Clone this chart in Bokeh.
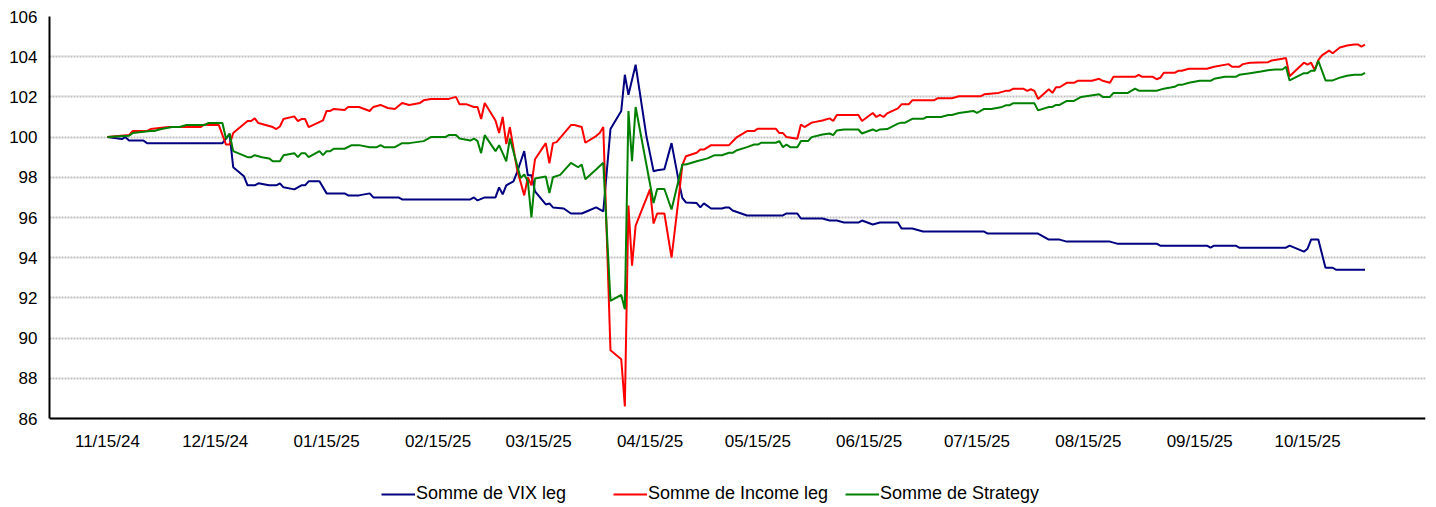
from datetime import datetime
import pandas as pd
from bokeh.plotting import figure
from bokeh.models import Range1d, FixedTicker, DatetimeTickFormatter
from bokeh.embed import file_html
from bokeh.resources import INLINE

# ---------------- data ----------------
vix_dates = ["2024-11-15","2024-11-18","2024-11-19","2024-11-20","2024-11-21","2024-11-25","2024-11-26",
    "2024-12-17","2024-12-19","2024-12-20","2024-12-23","2024-12-24","2024-12-26","2024-12-27","2024-12-30",
    "2025-01-01","2025-01-02","2025-01-03","2025-01-06","2025-01-08","2025-01-09","2025-01-10","2025-01-13",
    "2025-01-15","2025-01-20","2025-01-21","2025-01-24","2025-01-27","2025-01-28","2025-02-04","2025-02-05",
    "2025-02-24","2025-02-25","2025-02-26","2025-02-28","2025-03-03","2025-03-04","2025-03-05","2025-03-06",
    "2025-03-08","2025-03-09","2025-03-11","2025-03-12","2025-03-13","2025-03-14","2025-03-17","2025-03-18",
    "2025-03-19","2025-03-22","2025-03-24","2025-03-27","2025-03-29","2025-03-31","2025-04-02","2025-04-04",
    "2025-04-07","2025-04-08","2025-04-09","2025-04-11","2025-04-14","2025-04-16","2025-04-17","2025-04-19",
    "2025-04-21","2025-04-23","2025-04-24","2025-04-25","2025-04-28","2025-04-29","2025-04-30","2025-05-02",
    "2025-05-05","2025-05-06","2025-05-07","2025-05-08","2025-05-12","2025-05-22","2025-05-23","2025-05-26",
    "2025-05-27","2025-06-02","2025-06-04","2025-06-06","2025-06-08","2025-06-12","2025-06-13","2025-06-16",
    "2025-06-18","2025-06-23","2025-06-24","2025-06-27","2025-06-30","2025-07-17","2025-07-18","2025-08-01",
    "2025-08-04","2025-08-07","2025-08-09","2025-08-21","2025-08-23","2025-09-03","2025-09-04","2025-09-17",
    "2025-09-18","2025-09-19","2025-09-25","2025-09-26","2025-10-09","2025-10-10","2025-10-14","2025-10-15",
    "2025-10-16","2025-10-18","2025-10-20","2025-10-22","2025-10-23","2025-10-31"]
vix = [100.0,99.93,99.9,100.0,99.83,99.83,99.7,
    99.7,100.15,98.5,98.05,97.6,97.6,97.7,97.6,
    97.6,97.7,97.5,97.4,97.6,97.6,97.8,97.8,
    97.2,97.2,97.1,97.1,97.2,97.0,97.0,96.9,
    96.9,97.0,96.85,97.0,97.0,97.5,97.15,97.6,
    97.8,98.25,99.3,98.1,98.1,97.3,96.65,96.7,
    96.5,96.45,96.2,96.2,96.35,96.5,96.3,100.4,
    101.3,103.1,102.1,103.6,100.05,98.3,98.35,98.4,
    99.7,97.8,96.97,96.75,96.72,96.5,96.7,96.45,
    96.45,96.5,96.5,96.35,96.1,96.1,96.2,96.2,
    95.95,95.95,95.85,95.85,95.75,95.75,95.85,95.65,
    95.75,95.75,95.45,95.45,95.3,95.3,95.2,95.2,
    94.9,94.9,94.8,94.8,94.7,94.7,94.6,94.6,
    94.5,94.6,94.6,94.5,94.5,94.6,94.3,94.45,
    94.9,94.9,93.5,93.5,93.4,93.4]

income_dates = ["2024-11-15","2024-11-21","2024-11-22","2024-11-26","2024-11-27","2024-12-02","2024-12-11",
    "2024-12-12","2024-12-13","2024-12-16","2024-12-18","2024-12-19","2024-12-20","2024-12-24","2024-12-25",
    "2024-12-26","2024-12-27","2024-12-29","2024-12-31","2025-01-01","2025-01-02","2025-01-03","2025-01-06",
    "2025-01-07","2025-01-08","2025-01-09","2025-01-10","2025-01-14","2025-01-15","2025-01-16","2025-01-17",
    "2025-01-20","2025-01-21","2025-01-24","2025-01-27","2025-01-28","2025-01-30","2025-02-01","2025-02-03",
    "2025-02-05","2025-02-07","2025-02-10","2025-02-11","2025-02-13","2025-02-18","2025-02-20","2025-02-21",
    "2025-02-23","2025-02-25","2025-02-26","2025-02-27","2025-02-28","2025-03-03","2025-03-04","2025-03-05",
    "2025-03-06","2025-03-07","2025-03-09","2025-03-11","2025-03-12","2025-03-13","2025-03-14","2025-03-17",
    "2025-03-18","2025-03-19","2025-03-20","2025-03-24","2025-03-25","2025-03-27","2025-03-28","2025-03-31",
    "2025-04-01","2025-04-02","2025-04-04","2025-04-07","2025-04-08","2025-04-09","2025-04-10","2025-04-11",
    "2025-04-15","2025-04-16","2025-04-17","2025-04-19","2025-04-21","2025-04-23","2025-04-24","2025-04-25",
    "2025-04-28","2025-04-29","2025-04-30","2025-05-02","2025-05-07","2025-05-09","2025-05-12","2025-05-14",
    "2025-05-15","2025-05-20","2025-05-21","2025-05-22","2025-05-23","2025-05-26","2025-05-27","2025-05-28",
    "2025-05-30","2025-06-02","2025-06-04","2025-06-05","2025-06-06","2025-06-12","2025-06-13","2025-06-16",
    "2025-06-17","2025-06-18","2025-06-19","2025-06-20","2025-06-23","2025-06-24","2025-06-26","2025-06-27",
    "2025-07-03","2025-07-04","2025-07-08","2025-07-10","2025-07-16","2025-07-17","2025-07-21","2025-07-23",
    "2025-07-24","2025-07-25","2025-07-28","2025-07-29","2025-07-30","2025-07-31","2025-08-01","2025-08-04",
    "2025-08-05","2025-08-06","2025-08-07","2025-08-09","2025-08-11","2025-08-12","2025-08-16","2025-08-18",
    "2025-08-19","2025-08-21","2025-08-22","2025-08-28","2025-08-29","2025-08-30","2025-09-02","2025-09-03",
    "2025-09-04","2025-09-05","2025-09-08","2025-09-09","2025-09-10","2025-09-12","2025-09-17","2025-09-19",
    "2025-09-23","2025-09-24","2025-09-26","2025-09-27","2025-09-29","2025-10-04","2025-10-05","2025-10-08",
    "2025-10-09","2025-10-10","2025-10-14","2025-10-15","2025-10-16","2025-10-17","2025-10-18","2025-10-19",
    "2025-10-21","2025-10-22","2025-10-24","2025-10-26","2025-10-28","2025-10-29","2025-10-30","2025-10-31"]
income = [100.0,100.1,100.3,100.3,100.4,100.5,100.5,
    100.63,100.6,100.6,99.63,99.63,100.2,100.8,100.8,
    100.93,100.7,100.6,100.5,100.4,100.53,100.9,101.03,
    100.8,100.9,100.9,100.5,100.83,101.3,101.3,101.4,
    101.35,101.5,101.5,101.3,101.5,101.6,101.45,101.4,
    101.7,101.6,101.7,101.83,101.9,101.9,102.0,101.63,
    101.63,101.5,101.5,100.9,101.7,100.83,100.2,101.0,
    99.65,100.5,98.4,97.1,98.0,97.6,98.9,99.7,
    98.7,99.7,99.75,100.6,100.6,100.5,99.72,100.05,
    100.2,100.5,89.4,88.95,86.6,96.6,93.6,95.6,
    97.4,95.7,96.2,96.2,94.0,97.0,98.6,99.05,
    99.22,99.38,99.38,99.6,99.6,99.97,100.3,100.3,
    100.42,100.42,100.2,100.2,100.0,99.92,100.63,100.5,
    100.72,100.83,100.93,100.8,101.1,101.1,100.8,101.2,
    101.0,101.1,101.0,101.18,101.43,101.63,101.63,101.83,
    101.83,101.93,101.93,102.03,102.03,102.13,102.2,102.3,
    102.3,102.4,102.4,102.3,102.38,102.3,101.9,102.38,
    102.2,102.48,102.48,102.7,102.7,102.8,102.8,102.9,
    102.8,102.7,103.0,103.0,103.1,103.0,103.0,102.88,
    102.95,103.2,103.2,103.3,103.3,103.4,103.4,103.5,
    103.63,103.5,103.5,103.63,103.7,103.73,103.81,103.9,
    103.93,103.03,103.7,103.6,103.7,103.33,103.83,104.07,
    104.3,104.17,104.46,104.56,104.61,104.61,104.5,104.6]

strategy_dates = ["2024-11-15","2024-11-21","2024-11-22","2024-11-27","2024-11-28","2024-11-30","2024-12-03",
    "2024-12-05","2024-12-07","2024-12-12","2024-12-13","2024-12-17","2024-12-18","2024-12-19","2024-12-20",
    "2024-12-24","2024-12-25","2024-12-26","2024-12-28","2024-12-30","2024-12-31","2025-01-02","2025-01-03",
    "2025-01-06","2025-01-07","2025-01-08","2025-01-09","2025-01-10","2025-01-13","2025-01-14","2025-01-15",
    "2025-01-16","2025-01-17","2025-01-20","2025-01-22","2025-01-24","2025-01-27","2025-01-29","2025-01-30",
    "2025-01-31","2025-02-03","2025-02-05","2025-02-07","2025-02-11","2025-02-13","2025-02-17","2025-02-18",
    "2025-02-20","2025-02-21","2025-02-24","2025-02-25","2025-02-26","2025-02-27","2025-02-28","2025-03-03",
    "2025-03-04","2025-03-05","2025-03-06","2025-03-07","2025-03-10","2025-03-11","2025-03-12","2025-03-13",
    "2025-03-14","2025-03-17","2025-03-18","2025-03-19","2025-03-21","2025-03-24","2025-03-26","2025-03-27",
    "2025-03-28","2025-03-31","2025-04-02","2025-04-04","2025-04-07","2025-04-08","2025-04-09","2025-04-10",
    "2025-04-11","2025-04-16","2025-04-17","2025-04-19","2025-04-21","2025-04-24","2025-04-25","2025-04-28",
    "2025-05-01","2025-05-03","2025-05-05","2025-05-07","2025-05-08","2025-05-09","2025-05-12","2025-05-14",
    "2025-05-15","2025-05-16","2025-05-20","2025-05-21","2025-05-22","2025-05-23","2025-05-24","2025-05-26",
    "2025-05-27","2025-05-29","2025-05-30","2025-06-02","2025-06-04","2025-06-05","2025-06-06","2025-06-08",
    "2025-06-12","2025-06-13","2025-06-16","2025-06-17","2025-06-18","2025-06-20","2025-06-23","2025-06-24",
    "2025-06-25","2025-06-27","2025-06-30","2025-07-01","2025-07-05","2025-07-07","2025-07-08","2025-07-10",
    "2025-07-14","2025-07-15","2025-07-17","2025-07-19","2025-07-22","2025-07-23","2025-07-24","2025-07-25",
    "2025-07-31","2025-08-01","2025-08-04","2025-08-05","2025-08-06","2025-08-07","2025-08-09","2025-08-11",
    "2025-08-13","2025-08-18","2025-08-19","2025-08-21","2025-08-22","2025-08-26","2025-08-28","2025-08-29",
    "2025-09-03","2025-09-05","2025-09-08","2025-09-09","2025-09-10","2025-09-12","2025-09-15","2025-09-18",
    "2025-09-19","2025-09-22","2025-09-25","2025-09-26","2025-09-29","2025-10-02","2025-10-04","2025-10-06",
    "2025-10-08","2025-10-09","2025-10-10","2025-10-14","2025-10-15","2025-10-16","2025-10-17","2025-10-18",
    "2025-10-20","2025-10-22","2025-10-24","2025-10-26","2025-10-28","2025-10-30","2025-10-31"]
strategy = [100.0,100.07,100.2,100.3,100.3,100.4,100.5,
    100.5,100.6,100.6,100.7,100.7,99.92,100.18,99.3,
    99.0,99.0,99.1,99.0,98.94,98.8,98.8,99.1,
    99.2,99.0,99.2,99.2,99.0,99.3,99.1,99.3,
    99.3,99.42,99.42,99.6,99.6,99.5,99.5,99.6,
    99.5,99.5,99.7,99.7,99.8,100.0,100.0,100.1,
    100.1,99.93,99.83,99.93,99.8,99.2,100.1,99.3,
    99.6,99.2,98.8,99.93,97.97,98.14,97.8,96.0,
    97.94,98.04,97.22,98.0,98.12,98.72,98.5,98.64,
    97.9,98.39,98.72,91.85,92.15,91.44,101.3,98.8,
    101.5,96.72,97.42,97.42,96.4,98.64,98.64,98.8,
    98.94,99.1,99.1,99.22,99.22,99.33,99.5,99.63,
    99.63,99.72,99.72,99.8,99.5,99.63,99.5,99.5,
    99.8,99.8,100.0,100.13,100.18,100.1,100.33,100.38,
    100.38,100.18,100.38,100.3,100.38,100.4,100.67,100.72,
    100.72,100.91,100.91,101.0,101.0,101.1,101.1,101.2,
    101.3,101.2,101.4,101.4,101.5,101.58,101.58,101.68,
    101.68,101.33,101.5,101.5,101.6,101.6,101.8,101.8,
    102.0,102.13,102.0,102.0,102.2,102.2,102.41,102.31,
    102.31,102.41,102.5,102.6,102.6,102.7,102.8,102.8,
    102.9,103.0,103.0,103.1,103.18,103.26,103.33,103.36,
    103.36,103.5,102.82,103.18,103.18,103.3,103.3,103.8,
    102.82,102.82,102.96,103.05,103.1,103.1,103.2]

tick_dates = ["2024-11-15","2024-12-15","2025-01-15","2025-02-15","2025-03-15","2025-04-15",
              "2025-05-15","2025-06-15","2025-07-15","2025-08-15","2025-09-15","2025-10-15"]
y_ticks = [86, 88, 90, 92, 94, 96, 98, 100, 102, 104, 106]
y_min, y_max = 86, 106

series_names = ["Somme de VIX leg", "Somme de Income leg", "Somme de Strategy"]
series_colors = ["#000080", "#FF0000", "#008000"]

# ---------------- figure ----------------
FONT = "Liberation Sans"
W, H = 1436, 507
TOP, LEFT, RIGHT = 16, 49, 11
px_per_unit = (418 - TOP) / (y_max - y_min)
y_start = y_min - (H - 418) / px_per_unit   # room below the axis for the legend

p = figure(width=W, height=H, output_backend="svg", toolbar_location=None,
           x_axis_type="datetime",
           x_range=Range1d(datetime(2024, 10, 29, 21), datetime(2025, 11, 16, 20)),
           y_range=Range1d(y_start, y_max),
           min_border_left=LEFT, min_border_right=RIGHT, min_border_top=TOP, min_border_bottom=0)
p.outline_line_color = None
p.background_fill_color = "white"
p.border_fill_color = "white"

for d, v, name, col in [(vix_dates, vix, series_names[0], series_colors[0]),
                        (income_dates, income, series_names[1], series_colors[1]),
                        (strategy_dates, strategy, series_names[2], series_colors[2])]:
    p.line(x=pd.to_datetime(d), y=v, line_color=col, line_width=2, legend_label=name)

tick_ms = [pd.Timestamp(t).value // 10**6 for t in tick_dates]
p.xaxis.ticker = FixedTicker(ticks=tick_ms)
fmt = "%m/%d/%y"
p.xaxis.formatter = DatetimeTickFormatter(days=fmt, months=fmt, years=fmt, hours=fmt,
                                          hourmin=fmt, minutes=fmt, seconds=fmt, minsec=fmt,
                                          milliseconds=fmt, microseconds=fmt)
p.xaxis.fixed_location = y_min
p.yaxis.ticker = FixedTicker(ticks=y_ticks)
p.yaxis.bounds = (y_min, y_max)

for ax in (p.xaxis[0], p.yaxis[0]):
    ax.axis_line_color = "black"
    ax.axis_line_width = 2
    ax.major_tick_line_color = None
    ax.minor_tick_line_color = None
    ax.major_tick_out = 0
    ax.major_tick_in = 0
    ax.minor_tick_out = 0
    ax.major_label_text_font = FONT
    ax.major_label_text_font_size = "17px"
    ax.major_label_text_color = "black"
p.xaxis.major_label_standoff = 13
p.yaxis.major_label_standoff = 12

p.xgrid.grid_line_color = None
p.ygrid.grid_line_color = "#c0c0c0"
p.ygrid.grid_line_width = 2
p.ygrid.grid_line_dash = "2 1"

lg = p.legend[0]
lg.orientation = "horizontal"
lg.location = (332, 3)
lg.border_line_color = None
lg.background_fill_alpha = 0
lg.padding = 0
lg.margin = 0
lg.spacing = 0
lg.glyph_width = 34
lg.glyph_height = 20
lg.label_height = 20
lg.label_width = 197
lg.label_standoff = 1
lg.label_text_font = FONT
lg.label_text_font_size = "18px"
lg.label_text_color = "black"

open("out.html", "w").write(file_html(p, INLINE))
